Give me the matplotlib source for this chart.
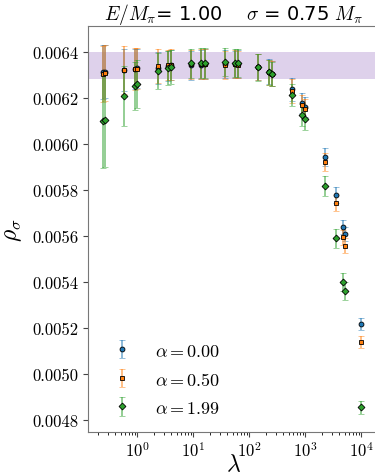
import matplotlib
matplotlib.use("Agg")
import matplotlib.pyplot as plt
from matplotlib.colors import to_rgba

plt.rcParams['font.family'] = 'serif'
plt.rcParams['font.serif'] = ['cmr10']
plt.rcParams['mathtext.fontset'] = 'cm'
plt.rcParams['axes.formatter.use_mathtext'] = True

lam = [0.239, 0.259, 0.58, 0.90, 1.0, 2.33, 3.55, 4.02, 9.1, 13.7, 16.1, 36.6,
       55, 62, 143, 221, 250, 573, 877, 975, 2213, 3490, 4750, 5095, 10000]

rho_a0 = [0.006313, 0.006315, 0.006322, 0.006327, 0.006329, 0.006330, 0.006340, 0.006343,
          0.006342, 0.006345, 0.006347, 0.006347, 0.006346, 0.006348, 0.006334, 0.006314,
          0.006306, 0.006238, 0.006178, 0.006161, 0.005942, 0.005780, 0.005639, 0.005609,
          0.005217]
err_a0 = [1.16, 1.16, 0.92, 0.86, 0.86, 0.70, 0.64, 0.64, 0.63, 0.64, 0.64, 0.61, 0.60,
          0.60, 0.57, 0.54, 0.54, 0.50, 0.43, 0.43, 0.39, 0.35, 0.32, 0.32, 0.26]

rho_a05 = [0.006306, 0.006310, 0.006322, 0.006327, 0.006328, 0.006338, 0.006343, 0.006345,
           0.006346, 0.006348, 0.006346, 0.006345, 0.006347, 0.006345, 0.006334, 0.006312,
           0.006305, 0.006232, 0.006170, 0.006152, 0.005920, 0.005742, 0.005594, 0.005558,
           0.005140]
err_a05 = [1.22, 1.22, 1.04, 0.91, 0.91, 0.74, 0.66, 0.66, 0.63, 0.65, 0.65, 0.61, 0.60,
           0.60, 0.57, 0.54, 0.54, 0.52, 0.43, 0.43, 0.39, 0.35, 0.33, 0.33, 0.26]

rho_a199 = [0.006098, 0.006104, 0.006209, 0.006253, 0.006261, 0.006317, 0.006330, 0.006336,
            0.006351, 0.006352, 0.006354, 0.006355, 0.006351, 0.006353, 0.006333, 0.006312,
            0.006304, 0.006214, 0.006127, 0.006107, 0.005816, 0.005590, 0.005401, 0.005361,
            0.004855]
err_a199 = [2.04, 2.04, 1.30, 1.04, 1.04, 0.80, 0.74, 0.74, 0.64, 0.65, 0.65, 0.61, 0.60,
            0.60, 0.57, 0.54, 0.54, 0.48, 0.48, 0.48, 0.43, 0.40, 0.38, 0.38, 0.29]

labels = [r'$\alpha = 0.00$', r'$\alpha = 0.50$', r'$\alpha = 1.99$']
band_lo, band_hi = 0.006284, 0.006400

fig = plt.figure(figsize=(3.75, 4.77), dpi=100)
ax = fig.add_axes([88/375, 44/477, 292/375, 406/477])

ax.axhspan(band_lo, band_hi, color='tab:purple', alpha=0.3, lw=0)

series = [(rho_a0, err_a0, 'tab:blue', 'o'),
          (rho_a05, err_a05, 'tab:orange', 's'),
          (rho_a199, err_a199, 'tab:green', 'D')]
for (r, e, c, m), lab in zip(series, labels):
    ax.errorbar(lam, r, yerr=[v * 1e-4 for v in e], fmt=m, color=c,
                ecolor=to_rgba(c, 0.55), elinewidth=1.3, capsize=2, capthick=1,
                markersize=3.5, markeredgecolor='black', markeredgewidth=0.6,
                label=lab)

ax.set_xscale('log')
ax.set_xlim(0.1306, 21500)
ax.set_ylim(0.004748, 0.006513)
ax.set_yticks([0.0048, 0.0050, 0.0052, 0.0054, 0.0056, 0.0058, 0.0060, 0.0062, 0.0064])
ax.set_yticklabels(['0.0048', '0.0050', '0.0052', '0.0054', '0.0056', '0.0058',
                    '0.0060', '0.0062', '0.0064'])
ax.tick_params(labelsize=12, colors='#444444', labelcolor='black')
ax.tick_params(axis='x', pad=2)
for s in ax.spines.values():
    s.set_color('#777777')

ax.set_xlabel(r'$\lambda$', fontsize=17, labelpad=-4)
ax.set_ylabel(r'$\rho_\sigma$', fontsize=17, labelpad=6)
ax.set_title(r'$E/M_{\pi}$= 1.00    $\sigma$ = 0.75 $M_{\pi}$', fontsize=14,
             family='DejaVu Sans', pad=4)

ax.legend(loc='center left', bbox_to_anchor=(0.0, 0.13), frameon=False, fontsize=13,
          handletextpad=0.8, labelspacing=0.67)

fig.savefig('out.png', dpi=100)
